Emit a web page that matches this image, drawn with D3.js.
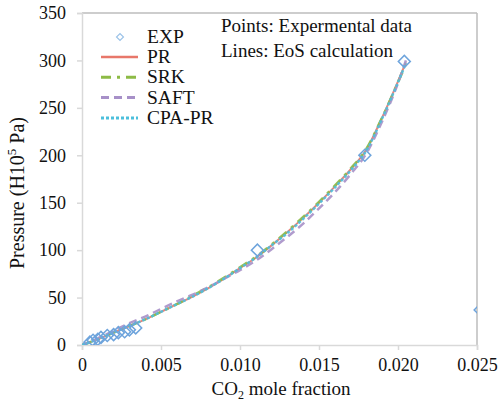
<!DOCTYPE html>
<html>
<head>
<script src="https://d3js.org/d3.v7.min.js"></script>
<style>
  body { margin: 0; background: #fff; }
  text { font-family: "Liberation Serif", "Times New Roman", serif; fill: #111; }
</style>
</head>
<body>
<svg width="498" height="402"></svg>
<script>
// experimental points
var expX = [0.0005, 0.0007, 0.0010, 0.0012, 0.0016, 0.0020, 0.0023, 0.0027, 0.0030, 0.0034, 0.0111, 0.0179, 0.0204, 0.0252];
var expY = [3, 5, 6, 8, 10, 11, 13, 14, 16, 18, 100, 200, 299, 37];

// EoS calculated curves
var calcX = [0, 0.001, 0.002, 0.003, 0.004, 0.005, 0.006, 0.007, 0.008, 0.009, 0.010, 0.011, 0.012, 0.013, 0.014, 0.015, 0.016, 0.017, 0.018, 0.019, 0.020, 0.0205];
var prY   = [0, 6, 13, 20, 27, 35, 43, 51, 60, 70, 81, 92, 105, 119, 134, 150, 167, 185, 206, 240, 278, 298];
var srkY  = [0, 6, 13, 20, 27, 35, 43, 52, 61, 71, 82, 93, 106, 120, 135, 151, 168, 186, 207, 240, 277, 296];
var saftY = [0, 7, 15, 23, 30, 38, 46, 53, 61, 70, 79, 89, 101, 114, 128, 144, 161, 180, 202, 236, 276, 300];
var cpaY  = [0, 6, 13, 20, 27, 35, 43, 51, 60, 70, 81, 92, 105, 118, 133, 149, 166, 184, 205, 239, 277, 297];

var xTicks = [0, 0.005, 0.010, 0.015, 0.020, 0.025];
var yTicks = [0, 50, 100, 150, 200, 250, 300, 350];

var series = [
  { name: "PR",     y: prY,   color: "#e8776a", dash: null,       width: 2 },
  { name: "SRK",    y: srkY,  color: "#8dbb46", dash: "10,6,3,6", width: 2.5 },
  { name: "SAFT",   y: saftY, color: "#a790c8", dash: "8,5",      width: 2.5 },
  { name: "CPA-PR", y: cpaY,  color: "#4cbfdc", dash: "3,2",      width: 2.5 }
];

var svg = d3.select("svg");
var mLeft = 82, mRight = 477, mTop = 13, mBottom = 345;

var x = d3.scaleLinear().domain([0, 0.025]).range([mLeft, mRight]);
var y = d3.scaleLinear().domain([0, 350]).range([mBottom, mTop]);

svg.append("defs").append("clipPath").attr("id", "clip")
  .append("rect").attr("x", mLeft).attr("y", mTop).attr("width", mRight - mLeft).attr("height", mBottom - mTop);

// frame
svg.append("line").attr("x1", mLeft).attr("x2", mRight).attr("y1", mTop).attr("y2", mTop)
  .attr("stroke", "#bdbdbd").attr("stroke-width", 1.5);
svg.append("line").attr("x1", mRight).attr("x2", mRight).attr("y1", mTop).attr("y2", mBottom)
  .attr("stroke", "#bdbdbd").attr("stroke-width", 1.5);

// axes
var xAxis = svg.append("g").attr("transform", "translate(0," + mBottom + ")")
  .call(d3.axisBottom(x).tickValues(xTicks).tickSize(5).tickPadding(8)
    .tickFormat(function(d) { return d === 0 ? "0" : d3.format(".3f")(d); }));
var yAxis = svg.append("g").attr("transform", "translate(" + mLeft + ",0)")
  .call(d3.axisLeft(y).tickValues(yTicks).tickSize(5).tickPadding(11));
[xAxis, yAxis].forEach(function(a) {
  a.attr("font-family", null);
  a.select(".domain").attr("stroke", "#d9d9d9").attr("stroke-width", 1.5);
  a.selectAll(".tick line").attr("stroke", "#d9d9d9").attr("stroke-width", 1.5);
  a.selectAll("text").attr("font-size", 18).attr("fill", "#111");
});

// curves
var plot = svg.append("g").attr("clip-path", "url(#clip)");
var line = d3.line().curve(d3.curveMonotoneX);
series.forEach(function(s) {
  plot.append("path")
    .attr("d", line(calcX.map(function(v, i) { return [x(v), y(s.y[i])]; })))
    .attr("fill", "none").attr("stroke", s.color).attr("stroke-width", s.width)
    .attr("stroke-dasharray", s.dash).attr("opacity", 0.9);
});

// experimental diamonds
var diamond = d3.symbol().type(d3.symbolSquare).size(72);
plot.selectAll(".exp").data(expX).enter().append("path")
  .attr("d", diamond)
  .attr("transform", function(d, i) { return "translate(" + x(d) + "," + y(expY[i]) + ") rotate(45)"; })
  .attr("fill", "none").attr("stroke", "#6ea4dc").attr("stroke-width", 1.5);

// legend
var lg = svg.append("g");
lg.append("path").attr("d", d3.symbol().type(d3.symbolSquare).size(24))
  .attr("transform", "translate(120,37) rotate(45)")
  .attr("fill", "none").attr("stroke", "#9cc3e8").attr("stroke-width", 1.2);
lg.append("text").attr("x", 147).attr("y", 43).attr("font-size", 19.5).text("EXP");
series.forEach(function(s, i) {
  var yy = 57 + i * 20.3;
  lg.append("line").attr("x1", 101).attr("x2", 138).attr("y1", yy).attr("y2", yy)
    .attr("stroke", s.color).attr("stroke-width", s.width + 0.5).attr("stroke-dasharray", s.dash);
  lg.append("text").attr("x", 147).attr("y", yy + 6).attr("font-size", 19.5).text(s.name);
});

svg.append("text").attr("x", 221).attr("y", 32).attr("font-size", 19).text("Points: Expermental data");
svg.append("text").attr("x", 221).attr("y", 57).attr("font-size", 19).text("Lines: EoS calculation");

// axis titles
var xt = svg.append("text").attr("x", 281).attr("y", 395).attr("text-anchor", "middle").attr("font-size", 19);
xt.append("tspan").text("CO");
xt.append("tspan").attr("font-size", 12).attr("dy", 4).text("2");
xt.append("tspan").attr("dy", -4).text(" mole fraction");

var yt = svg.append("text").attr("transform", "translate(24,193) rotate(-90)")
  .attr("text-anchor", "middle").attr("font-size", 20);
yt.append("tspan").text("Pressure (H10");
yt.append("tspan").attr("font-size", 13).attr("dy", -8).text("5");
yt.append("tspan").attr("dy", 8).text(" Pa)");
</script>
</body>
</html>
